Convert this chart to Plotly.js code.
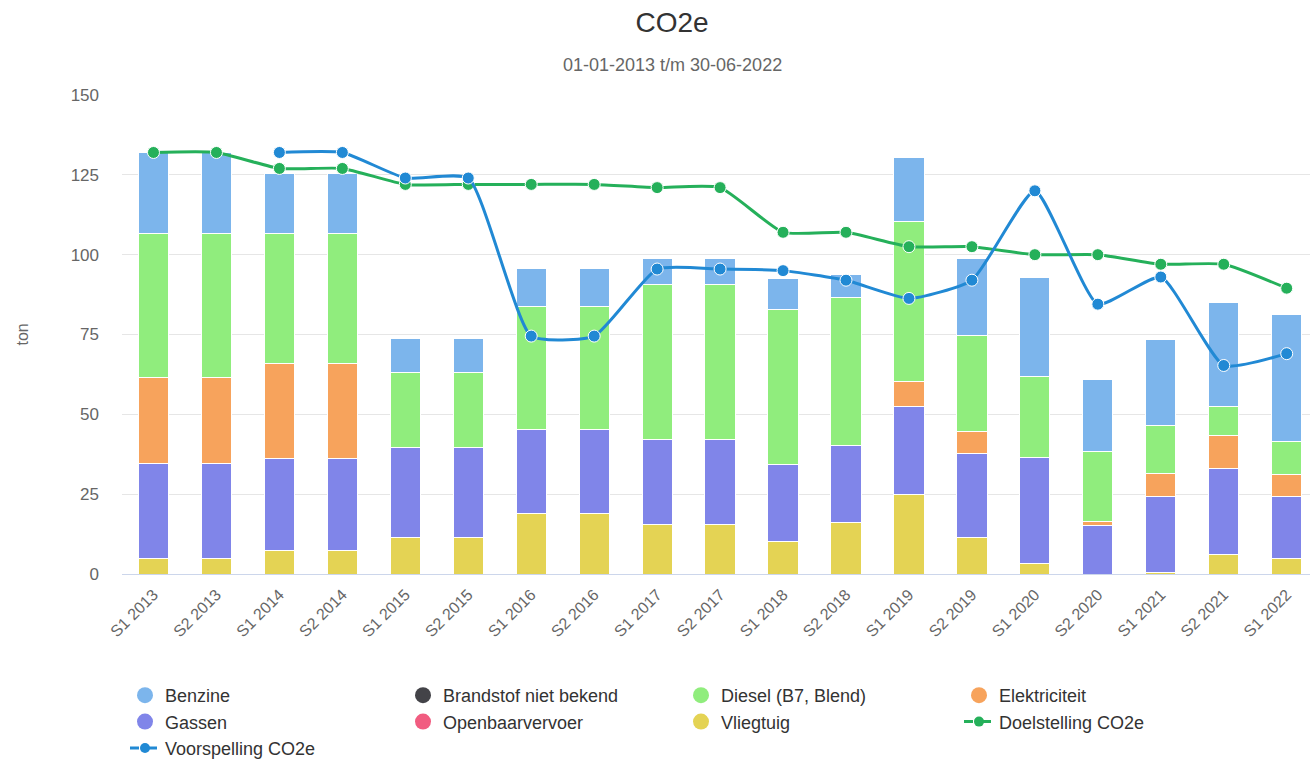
<!DOCTYPE html>
<html>
<head>
<meta charset="utf-8">
<script src="https://cdn.plot.ly/plotly-3.0.1.min.js"></script>
<style>
  body { margin: 0; background: #fff; }
  #chart { width: 1310px; height: 762px; }
</style>
</head>
<body>
<div id="chart"></div>
<script>
const categories = ['S1 2013', 'S2 2013', 'S1 2014', 'S2 2014', 'S1 2015', 'S2 2015', 'S1 2016', 'S2 2016',
  'S1 2017', 'S2 2017', 'S1 2018', 'S2 2018', 'S1 2019', 'S2 2019', 'S1 2020', 'S2 2020', 'S1 2021', 'S2 2021', 'S1 2022']

// stacked segments (ton)
const benzine       = [25.5, 25.5, 18.8, 18.8, 10.6, 10.6, 12.0, 12.0, 7.9, 7.9, 9.7, 7.3, 19.9, 24.1, 30.8, 22.3, 26.8, 32.6, 39.9]
const brandstof     = [0, 0, 0, 0, 0, 0, 0, 0, 0, 0, 0, 0, 0, 0, 0, 0, 0, 0, 0]
const diesel        = [45.0, 45.0, 40.9, 40.9, 23.6, 23.6, 38.3, 38.3, 48.6, 48.6, 48.3, 46.2, 50.3, 30.0, 25.6, 22.1, 15.0, 9.1, 10.2]
const elektriciteit = [27.0, 27.0, 29.7, 29.7, 0, 0, 0.3, 0.3, 0, 0, 0, 0.2, 7.6, 7.0, 0, 1.1, 7.1, 10.2, 6.8]
const gassen        = [29.5, 29.5, 28.6, 28.6, 28.1, 28.1, 26.1, 26.1, 26.6, 26.6, 24.1, 24.0, 27.6, 26.1, 33.1, 15.3, 23.9, 27.1, 19.5]
const openbaar      = [0, 0, 0, 0, 0, 0, 0, 0, 0, 0, 0, 0, 0, 0, 0, 0, 0, 0, 0]
const vliegtuig     = [5.0, 5.0, 7.5, 7.5, 11.5, 11.5, 19.0, 19.0, 15.6, 15.6, 10.3, 16.1, 25.0, 11.5, 3.3, 0, 0.5, 6.0, 4.9]

const doelstelling  = [132, 132, 127, 127, 122, 122, 122, 122, 121, 121, 107, 107, 102.5, 102.5, 100, 100, 97, 97, 89.5]
const voorspelling  = [null, null, 132, 132, 124, 124, 74.5, 74.5, 95.5, 95.5, 95, 92, 86.3, 92, 120, 84.5, 93, 65.3, 69]

const Plotly = window.Plotly

const seriesDefs = [
  { name: 'Benzine', values: benzine, color: '#7cb5ec' },
  { name: 'Brandstof niet bekend', values: brandstof, color: '#434348' },
  { name: 'Diesel (B7, Blend)', values: diesel, color: '#90ed7d' },
  { name: 'Elektriciteit', values: elektriciteit, color: '#f7a35c' },
  { name: 'Gassen', values: gassen, color: '#8085e9' },
  { name: 'Openbaarvervoer', values: openbaar, color: '#f15c80' },
  { name: 'Vliegtuig', values: vliegtuig, color: '#e4d354' },
]

let data = []

// bars: highcharts stacks the first series on top, so push them reversed
seriesDefs.slice().reverse().forEach(s => {
  data.push({
    type: 'bar',
    name: s.name,
    x: categories,
    y: s.values,
    width: 0.48,
    marker: { color: s.color, line: { color: '#ffffff', width: 1 } },
    showlegend: false,
    hoverinfo: 'skip',
  })
})

const lineColorGreen = '#25b05a'
const lineColorBlue = '#2189d4'

data.push({
  type: 'scatter',
  mode: 'lines+markers',
  name: 'Doelstelling CO2e',
  x: categories,
  y: doelstelling,
  line: { color: lineColorGreen, width: 3, shape: 'spline', smoothing: 0.5 },
  marker: { color: lineColorGreen, size: 12, line: { color: '#ffffff', width: 1 } },
  showlegend: false,
  hoverinfo: 'skip',
})
data.push({
  type: 'scatter',
  mode: 'lines+markers',
  name: 'Voorspelling CO2e',
  x: categories,
  y: voorspelling,
  connectgaps: false,
  line: { color: lineColorBlue, width: 3, shape: 'spline', smoothing: 0.5 },
  marker: { color: lineColorBlue, size: 12, line: { color: '#ffffff', width: 1 } },
  showlegend: false,
  hoverinfo: 'skip',
})

// legend-only entries so the swatches are round like the original
seriesDefs.forEach(s => {
  data.push({
    type: 'scatter', mode: 'markers', name: s.name,
    x: [null], y: [null],
    marker: { color: s.color, size: 17, symbol: 'circle' },
  })
})
data.push({
  type: 'scatter', mode: 'lines+markers', name: 'Doelstelling CO2e',
  x: [null], y: [null],
  line: { color: lineColorGreen, width: 3, dash: 'dash' },
  marker: { color: lineColorGreen, size: 10 },
})
data.push({
  type: 'scatter', mode: 'lines+markers', name: 'Voorspelling CO2e',
  x: [null], y: [null],
  line: { color: lineColorBlue, width: 3, dash: 'dash' },
  marker: { color: lineColorBlue, size: 10 },
})

const layout = {
  width: 1310,
  height: 762,
  margin: { l: 122, r: 0, t: 95, b: 188 },
  paper_bgcolor: '#ffffff',
  plot_bgcolor: '#ffffff',
  font: { family: '"Liberation Sans", Arial, sans-serif', color: '#666666' },
  barmode: 'stack',
  title: {
    text: 'CO2e',
    font: { size: 28, color: '#333333' },
    x: 672 / 1310, xref: 'container', xanchor: 'center',
    y: 1 - 22 / 762, yref: 'container', yanchor: 'middle',
  },
  xaxis: {
    type: 'category',
    range: [-0.5, 18.37],
    tickangle: -45,
    tickfont: { size: 16, color: '#666666' },
    showgrid: false,
    showline: true,
    linecolor: '#ccd6eb',
    linewidth: 1,
    ticks: '',
    ticklabelstandoff: 4,
    fixedrange: true,
  },
  yaxis: {
    range: [0, 150],
    tick0: 0,
    dtick: 25,
    tickfont: { size: 17, color: '#666666' },
    gridcolor: '#e6e6e6',
    gridwidth: 1,
    zeroline: false,
    showline: false,
    ticklabelstandoff: 22,
    fixedrange: true,
  },
  annotations: [
    {
      text: '01-01-2013 t/m 30-06-2022',
      xref: 'paper', yref: 'paper',
      x: (672 - 122) / 1188, y: 1 + 30 / 479,
      xanchor: 'center', yanchor: 'middle',
      showarrow: false,
      font: { size: 18, color: '#666666' },
    },
    {
      text: 'ton',
      xref: 'paper', yref: 'paper',
      x: (22 - 122) / 1188, y: 0.5,
      xanchor: 'center', yanchor: 'middle',
      textangle: -90,
      showarrow: false,
      font: { size: 16, color: '#666666' },
    },
  ],
  legend: {
    orientation: 'h',
    xref: 'container', yref: 'container',
    x: 125 / 1310, y: 1 - 677 / 762,
    xanchor: 'left', yanchor: 'top',
    entrywidth: 233,
    entrywidthmode: 'pixels',
    font: { size: 18, color: '#333333' },
    itemwidth: 30,
    traceorder: 'normal',
  },
  hovermode: false,
}

Plotly.newPlot('chart', data, layout, { displayModeBar: false, staticPlot: true })
</script>
</body>
</html>
